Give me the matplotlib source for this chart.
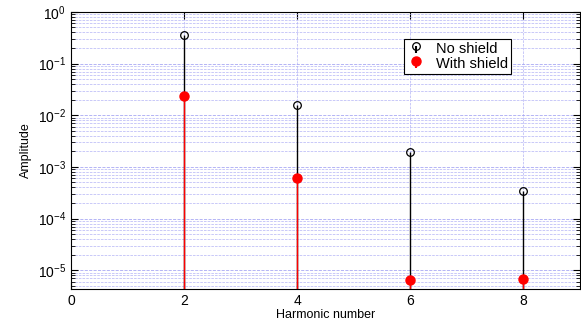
# Harmonic amplitudes with and without shield (MATLAB-style stem plot)

import numpy as np
import matplotlib.pyplot as plt
from matplotlib.ticker import LogLocator, FixedLocator

plt.rcParams['font.family'] = ['Liberation Sans', 'DejaVu Sans']
plt.rcParams['mathtext.fontset'] = 'custom'
plt.rcParams['mathtext.rm'] = 'Liberation Sans'
plt.rcParams['mathtext.default'] = 'regular'

harmonics = [2, 4, 6, 8]
no_shield = [0.36, 0.016, 1.9e-3, 3.4e-4]
with_shield = [0.024, 6.2e-4, 6.5e-6, 6.8e-6]

y_bottom = 4.3e-6

fig = plt.figure(figsize=(5.81, 3.22), dpi=100)
ax = fig.add_axes([0.122, 0.102, 0.876, 0.861])
ax.set_yscale('log')

# grid first so stems sit on top
ax.grid(True, which='major', axis='y', color='#a8a8f4', ls='--', lw=0.6)
ax.grid(True, which='minor', axis='y', color='#b4b4f6', ls='--', lw=0.5)
ax.grid(True, which='major', axis='x', color='#b4b4f6', ls='--', lw=0.5)

s1 = ax.stem(harmonics, no_shield, bottom=y_bottom, linefmt='k-', markerfmt='o',
             basefmt=' ', label='No shield')
s1.markerline.set_markerfacecolor('none')
s1.markerline.set_markeredgecolor('k')
s1.markerline.set_markersize(5.5)
s1.markerline.set_markeredgewidth(0.9)
s1.stemlines.set_linewidth(1.0)

s2 = ax.stem(harmonics, with_shield, bottom=y_bottom, linefmt='r-', markerfmt='ro',
             basefmt=' ', label='With shield')
s2.markerline.set_markersize(6.5)
s2.stemlines.set_linewidth(1.0)

ax.set_xlim(0, 9)
ax.set_ylim(y_bottom, 1)
ax.xaxis.set_major_locator(FixedLocator([0, 2, 4, 6, 8]))
ax.yaxis.set_major_locator(LogLocator(base=10, numticks=10))
ax.yaxis.set_minor_locator(LogLocator(base=10, subs=np.arange(2, 10), numticks=10))

ax.tick_params(which='both', direction='in', top=True, right=True, labelsize=10)
ax.tick_params(which='major', length=5, width=0.8)
ax.tick_params(which='minor', length=3, width=0.6)
for sp in ax.spines.values():
    sp.set_linewidth(0.8)

ax.set_xlabel('Harmonic number', fontsize=9, labelpad=1)
ax.set_ylabel('Amplitude', fontsize=9, labelpad=4)

leg = ax.legend(loc='upper left', bbox_to_anchor=(0.64, 0.93), fontsize=10.5,
                frameon=True, fancybox=False, edgecolor='k', framealpha=1,
                handlelength=1.2, handletextpad=0.8, borderpad=0.2, labelspacing=0.1)
leg.get_frame().set_linewidth(0.8)

fig.savefig('out.png', dpi=100)
